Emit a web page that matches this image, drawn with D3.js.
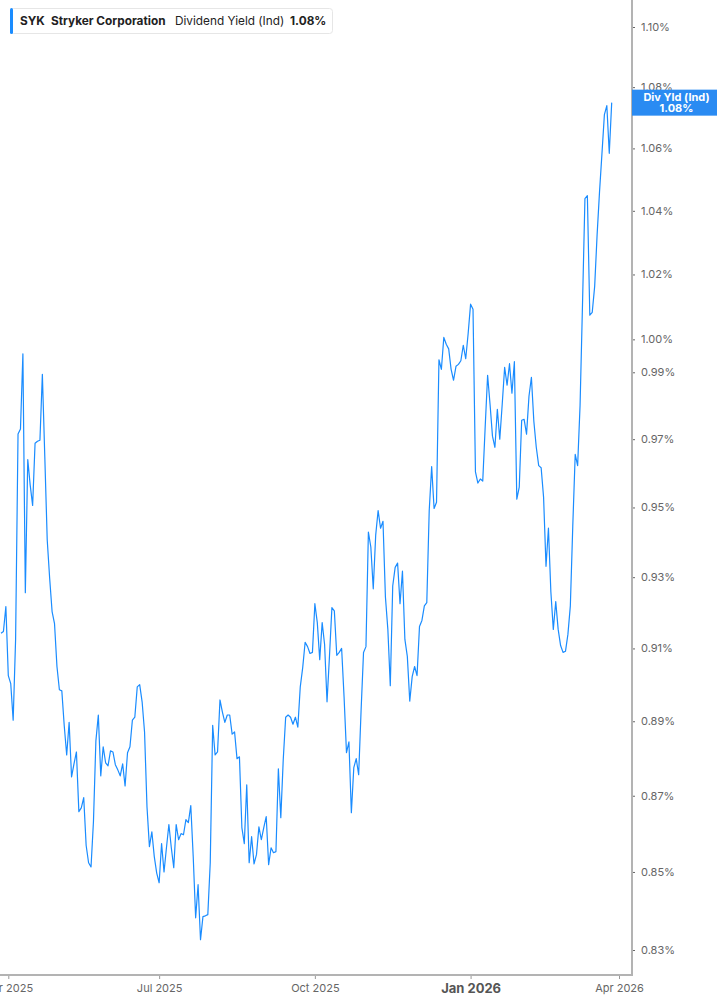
<!DOCTYPE html>
<html>
<head>
<meta charset="utf-8">
<script src="https://cdn.jsdelivr.net/npm/d3@7"></script>
<style>
  body { margin: 0; background: #fff; }
  svg { display: block; font-family: Inter, "Noto Sans", sans-serif; }
</style>
</head>
<body>
<svg id="chart"></svg>
<script>
// dividend yield (%), one value per trading day, late Mar 2025 .. late Mar 2026
const values = [
  0.9142, 0.9147, 0.9217, 0.9025, 0.9003, 0.8903, 0.9125, 0.9715, 0.9730, 0.9956,
  0.9256, 0.9640, 0.9565, 0.9506, 0.9688, 0.9694, 0.9697, 0.9894, 0.9649, 0.9406,
  0.9297, 0.9203, 0.9169, 0.9050, 0.8986, 0.8983, 0.8887, 0.8809, 0.8897, 0.8750,
  0.8785, 0.8817, 0.8658, 0.8668, 0.8695, 0.8569, 0.8524, 0.8513, 0.8632, 0.8847,
  0.8917, 0.8753, 0.8831, 0.8788, 0.8780, 0.8820, 0.8817, 0.8783, 0.8769, 0.8753,
  0.8785, 0.8726, 0.8815, 0.8831, 0.8903, 0.8911, 0.8994, 0.9000, 0.8953, 0.8871,
  0.8671, 0.8566, 0.8605, 0.8540, 0.8497, 0.8472, 0.8574, 0.8500, 0.8563, 0.8624,
  0.8563, 0.8511, 0.8624, 0.8584, 0.8600, 0.8597, 0.8637, 0.8629, 0.8674, 0.8540,
  0.8382, 0.8467, 0.8326, 0.8385, 0.8387, 0.8390, 0.8524, 0.8889, 0.8809, 0.8817,
  0.8958, 0.8925, 0.8897, 0.8917, 0.8917, 0.8865, 0.8871, 0.8799, 0.8804, 0.8616,
  0.8574, 0.8729, 0.8524, 0.8592, 0.8521, 0.8545, 0.8618, 0.8584, 0.8616, 0.8645,
  0.8519, 0.8563, 0.8550, 0.8553, 0.8772, 0.8642, 0.8796, 0.8911, 0.8917, 0.8911,
  0.8892, 0.8911, 0.8884, 0.8994, 0.9047, 0.9117, 0.9105, 0.9086, 0.9089, 0.9225,
  0.9172, 0.9069, 0.9172, 0.9111, 0.8953, 0.9078, 0.9214, 0.9205, 0.9081, 0.9089,
  0.9100, 0.8967, 0.8815, 0.8844, 0.8655, 0.8775, 0.8799, 0.8756, 0.8930, 0.9089,
  0.9105, 0.9429, 0.9386, 0.9267, 0.9420, 0.9491, 0.9440, 0.9460, 0.9244, 0.9153,
  0.8997, 0.9275, 0.9328, 0.9340, 0.9225, 0.9317, 0.9125, 0.9078, 0.8955, 0.9022,
  0.9050, 0.9025, 0.9161, 0.9178, 0.9219, 0.9228, 0.9491, 0.9619, 0.9497, 0.9515,
  0.9938, 0.9909, 1.0006, 0.9985, 0.9971, 0.9909, 0.9876, 0.9918, 0.9924, 0.9935,
  0.9982, 0.9941, 1.0018, 1.0108, 1.0092, 0.9604, 0.9571, 0.9583, 0.9577, 0.9736,
  0.9891, 0.9804, 0.9709, 0.9676, 0.9789, 0.9700, 0.9804, 0.9915, 0.9861, 0.9926,
  0.9837, 0.9932, 0.9524, 0.9559, 0.9756, 0.9759, 0.9715, 0.9828, 0.9885, 0.9753,
  0.9676, 0.9622, 0.9616, 0.9530, 0.9331, 0.9440, 0.9258, 0.9153, 0.9231, 0.9153,
  0.9108, 0.9089, 0.9092, 0.9139, 0.9219, 0.9446, 0.9655, 0.9622, 0.9801, 1.0108,
  1.0439, 1.0448, 1.0074, 1.0083, 1.0163, 1.0324, 1.0461, 1.0584, 1.0710, 1.0739,
  1.0584, 1.0749
];

// indicated yield shown in legend and badge
const currentYield = 1.08;

// trading-day index of each month label
const xTickIdx = [3, 65, 129, 193, 254];
const xTickLabels = ['Apr 2025', 'Jul 2025', 'Oct 2025', 'Jan 2026', 'Apr 2026'];
const yTicks = [0.83, 0.85, 0.87, 0.89, 0.91, 0.93, 0.95, 0.97, 0.99, 1.00, 1.02, 1.04, 1.06, 1.08, 1.10];

const ticker = 'SYK';
const company = 'Stryker Corporation';
const metric = 'Dividend Yield (Ind)';

const W = 717, H = 1005;
const axisX = 632, axisY = 975;
const BLUE = '#1a8cff';

const svg = d3.select('#chart')
  .attr('width', W)
  .attr('height', H);

const x = d3.scaleLinear()
  .domain([0, 254])
  .range([1, 619]);

// the value axis is logarithmic
const y = d3.scaleLog()
  .domain([0.83, 1.10])
  .range([950, 27]);

svg.append('clipPath')
  .attr('id', 'plot')
  .append('rect')
  .attr('x', 0).attr('y', 0)
  .attr('width', axisX).attr('height', axisY);

const line = d3.line()
  .x((d, i) => x(i))
  .y(d => y(d));

svg.append('path')
  .datum(values)
  .attr('clip-path', 'url(#plot)')
  .attr('fill', 'none')
  .attr('stroke', BLUE)
  .attr('stroke-width', 1.2)
  .attr('stroke-linejoin', 'round')
  .attr('d', line);

// right axis
const yAxis = svg.append('g')
  .attr('transform', `translate(${axisX},0)`)
  .call(d3.axisRight(y)
    .tickValues(yTicks)
    .tickFormat(d => d3.format('.2f')(d) + '%')
    .tickSize(3)
    .tickPadding(6));
yAxis.select('.domain').remove();
yAxis.selectAll('.tick line').attr('stroke', '#666');
yAxis.selectAll('.tick text')
  .attr('fill', '#666')
  .style('font-size', '11px')
  .style('font-family', 'Inter, sans-serif');

// bottom axis
const xAxis = svg.append('g')
  .attr('transform', `translate(0,${axisY})`)
  .call(d3.axisBottom(x)
    .tickValues(xTickIdx)
    .tickFormat((d, i) => xTickLabels[i])
    .tickSize(4)
    .tickPadding(5));
xAxis.select('.domain').remove();
xAxis.selectAll('.tick line').attr('stroke', '#999');
xAxis.selectAll('.tick text')
  .attr('fill', '#666')
  .style('font-size', '11px')
  .style('font-family', 'Inter, sans-serif')
  .filter(d => d === 193)
  .attr('fill', '#555')
  .style('font-size', '13px')
  .style('font-weight', 'bold');

svg.append('line')
  .attr('x1', 0).attr('x2', axisX + 1)
  .attr('y1', axisY).attr('y2', axisY)
  .attr('stroke', '#b3b3b3')
  .attr('stroke-width', 2);

svg.append('line')
  .attr('x1', axisX).attr('x2', axisX)
  .attr('y1', 0).attr('y2', axisY + 1)
  .attr('stroke', '#b3b3b3')
  .attr('stroke-width', 2);

// last value badge
const last = values[values.length - 1];
const badge = svg.append('g')
  .attr('transform', `translate(${axisX},${y(last) - 13})`);
badge.append('rect')
  .attr('width', W - axisX)
  .attr('height', 26)
  .attr('fill', '#2a8bf2');
badge.append('text')
  .attr('x', (W - axisX) / 2 + 2)
  .attr('y', 11)
  .attr('text-anchor', 'middle')
  .attr('fill', '#fff')
  .style('font-size', '11px')
  .style('font-weight', 'bold')
  .text('Div Yld (Ind)');
badge.append('text')
  .attr('x', (W - axisX) / 2 + 2)
  .attr('y', 22.5)
  .attr('text-anchor', 'middle')
  .attr('fill', '#fff')
  .style('font-size', '11px')
  .style('font-weight', 'bold')
  .text(d3.format('.2f')(currentYield) + '%');

// legend
const legend = svg.append('g');
legend.append('rect')
  .attr('x', 10.5).attr('y', 8.5)
  .attr('width', 322).attr('height', 25)
  .attr('rx', 3)
  .attr('fill', '#fff')
  .attr('stroke', '#e6e6e6');
legend.append('rect')
  .attr('x', 10).attr('y', 8)
  .attr('width', 3).attr('height', 26)
  .attr('rx', 1.5)
  .attr('fill', BLUE);

const legendText = legend.append('text')
  .attr('y', 25)
  .attr('fill', '#222')
  .style('font-size', '11.8px');
legendText.append('tspan').attr('x', 20).style('font-weight', 'bold').text(ticker);
legendText.append('tspan').attr('x', 51).style('font-weight', 'bold').text(company);
legendText.append('tspan').attr('x', 175).text(metric);
legendText.append('tspan').attr('x', 290).style('font-weight', 'bold').text(d3.format('.2f')(currentYield) + '%');
</script>
</body>
</html>
